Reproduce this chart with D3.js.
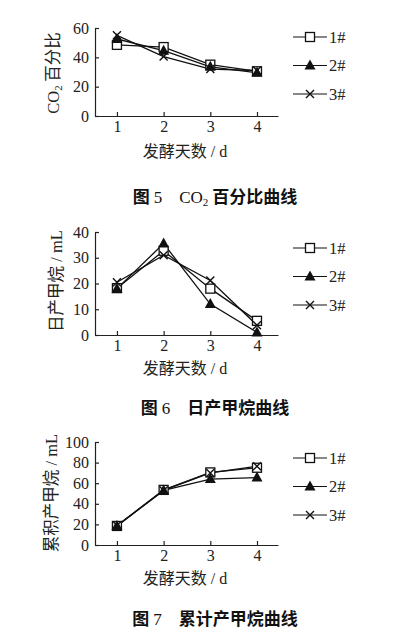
<!DOCTYPE html>
<html>
<head>
<meta charset="utf-8">
<script src="https://cdn.jsdelivr.net/npm/d3@7"></script>
<style>
  body { margin: 0; background: #fff; }
  svg { display: block; }
</style>
</head>
<body>
<div id="chart"></div>
<script>
// data
const days = [1, 2, 3, 4];
const seriesNames = ["1#", "2#", "3#"];
const symbols = ["square", "triangle", "cross"];

// fig 5: CO2 percent
const co2Ticks = [0, 20, 40, 60];
const co2_1 = [48.5, 47, 35, 30.5];
const co2_2 = [52.5, 44.5, 33.5, 29.5];
const co2_3 = [55, 40.5, 32, 31];

// fig 6: daily methane (mL)
const dailyTicks = [0, 10, 20, 30, 40];
const daily_1 = [18.2, 32.7, 18, 5.5];
const daily_2 = [18, 35.5, 12, 1];
const daily_3 = [20.5, 31, 21.2, 3.8];

// fig 7: cumulative methane (mL)
const cumTicks = [0, 20, 40, 60, 80, 100];
const cum_1 = [18.5, 53.5, 70.5, 75];
const cum_2 = [18.5, 53, 64, 65.5];
const cum_3 = [19, 53, 70, 76.5];

const W = 398, H = 637;
const serif = "'Liberation Serif', 'DejaVu Serif', serif";
const cjk = "'Noto Sans CJK SC', sans-serif";

let svg = d3.select("#chart").append("svg")
    .attr("width", W)
    .attr("height", H);

// shared x scale
let x = d3.scaleLinear()
    .domain([0.53, 4.45])
    .range([95, 278]);

let panels = [
    {
        ticks: co2Ticks, max: 60, top: 28, bottom: 116,
        series: [co2_1, co2_2, co2_3],
        ylabel: [{t: "CO", f: serif}, {t: "2", f: serif, sub: true}, {t: " 百分比", f: cjk}],
        ylabelX: 59, ylabelY: 73,
        xlabelY: 157, legendY: 37,
        caption: [{t: "图 ", f: cjk, b: true}, {t: "5", f: serif}, {t: "\u3000CO", f: serif}, {t: "2", f: serif, sub: true}, {t: " 百分比曲线", f: cjk, b: true}],
        captionY: 203
    },
    {
        ticks: dailyTicks, max: 40, top: 232, bottom: 335,
        series: [daily_1, daily_2, daily_3],
        ylabel: [{t: "日产甲烷", f: cjk}, {t: " / mL", f: serif}],
        ylabelX: 62, ylabelY: 281,
        xlabelY: 374, legendY: 248,
        caption: [{t: "图 ", f: cjk, b: true}, {t: "6", f: serif}, {t: "\u3000日产甲烷曲线", f: cjk, b: true}],
        captionY: 414
    },
    {
        ticks: cumTicks, max: 100, top: 442, bottom: 545,
        series: [cum_1, cum_2, cum_3],
        ylabel: [{t: "累积产甲烷", f: cjk}, {t: " / mL", f: serif}],
        ylabelX: 57, ylabelY: 493,
        xlabelY: 584, legendY: 458,
        caption: [{t: "图 ", f: cjk, b: true}, {t: "7", f: serif}, {t: "\u3000累计产甲烷曲线", f: cjk, b: true}],
        captionY: 625
    }
];

// marker drawing
function drawMarker(g, type, cx, cy) {
    if (type === "square") {
        g.append("rect")
            .attr("x", cx - 4.5).attr("y", cy - 4.5)
            .attr("width", 9).attr("height", 9)
            .attr("fill", "#fff").attr("stroke", "#111").attr("stroke-width", 1.3);
    } else if (type === "triangle") {
        g.append("path")
            .attr("d", `M${cx},${cy - 6}L${cx + 5.5},${cy + 4}L${cx - 5.5},${cy + 4}Z`)
            .attr("fill", "#111");
    } else {
        g.append("path")
            .attr("d", `M${cx - 4},${cy - 4}L${cx + 4},${cy + 4}M${cx - 4},${cy + 4}L${cx + 4},${cy - 4}`)
            .attr("stroke", "#111").attr("stroke-width", 1.4);
    }
}

function richText(sel, parts, size) {
    parts.forEach(p => {
        let ts = sel.append("tspan")
            .style("font-family", p.f)
            .style("font-weight", p.b ? "bold" : "normal")
            .text(p.t);
        if (p.sub) {
            ts.attr("baseline-shift", "-25%").style("font-size", (size * 0.65) + "px");
        }
    });
}

panels.forEach(p => {
    let y = d3.scaleLinear()
        .domain([0, p.max])
        .range([p.bottom, p.top]);

    let g = svg.append("g");

    // x axis
    let xAxis = g.append("g")
        .attr("transform", `translate(0, ${p.bottom})`)
        .call(d3.axisBottom(x).tickValues(days).tickFormat(d3.format("d"))
            .tickSize(-4).tickSizeOuter(0).tickPadding(5));

    // y axis
    let yAxis = g.append("g")
        .attr("transform", `translate(${x.range()[0]}, 0)`)
        .call(d3.axisLeft(y).tickValues(p.ticks).tickFormat(d3.format("d"))
            .tickSize(-4).tickSizeOuter(0).tickPadding(6));

    [xAxis, yAxis].forEach(a => {
        a.selectAll(".domain").attr("stroke", "#222").attr("stroke-width", 1.2);
        a.selectAll(".tick line").attr("stroke", "#222").attr("stroke-width", 1.2);
        a.selectAll(".tick text")
            .style("font-family", serif)
            .style("font-size", "16px")
            .attr("fill", "#222");
    });

    // series lines
    let line = d3.line()
        .x((d, i) => x(days[i]))
        .y(d => y(d));

    p.series.forEach((vals, si) => {
        g.append("path")
            .datum(vals)
            .attr("d", line)
            .attr("fill", "none")
            .attr("stroke", "#111")
            .attr("stroke-width", 1.3);
    });
    // markers on top
    p.series.forEach((vals, si) => {
        vals.forEach((v, i) => drawMarker(g, symbols[si], x(days[i]), y(v)));
    });

    // legend
    seriesNames.forEach((name, i) => {
        let ly = p.legendY + i * 28.5;
        g.append("line")
            .attr("x1", 293).attr("x2", 327)
            .attr("y1", ly).attr("y2", ly)
            .attr("stroke", "#111").attr("stroke-width", 1.2);
        drawMarker(g, symbols[i], 310, ly);
        g.append("text")
            .attr("x", 329).attr("y", ly + 5.5)
            .style("font-family", serif)
            .style("font-size", "16.5px")
            .attr("fill", "#222")
            .text(name);
    });

    // x axis label
    let xl = g.append("text")
        .attr("x", 185).attr("y", p.xlabelY)
        .style("text-anchor", "middle")
        .style("font-size", "16px")
        .attr("fill", "#222");
    richText(xl, [{t: "发酵天数", f: cjk}, {t: " / d", f: serif}], 16);

    // y axis label
    let yl = g.append("text")
        .attr("transform", `translate(${p.ylabelX}, ${p.ylabelY}) rotate(-90)`)
        .style("text-anchor", "middle")
        .style("font-size", "16.5px")
        .attr("fill", "#222");
    richText(yl, p.ylabel, 16.5);

    // caption
    let cap = g.append("text")
        .attr("x", 215).attr("y", p.captionY)
        .style("text-anchor", "middle")
        .style("font-size", "17px")
        .attr("fill", "#111");
    richText(cap, p.caption, 17);
});
</script>
</body>
</html>
